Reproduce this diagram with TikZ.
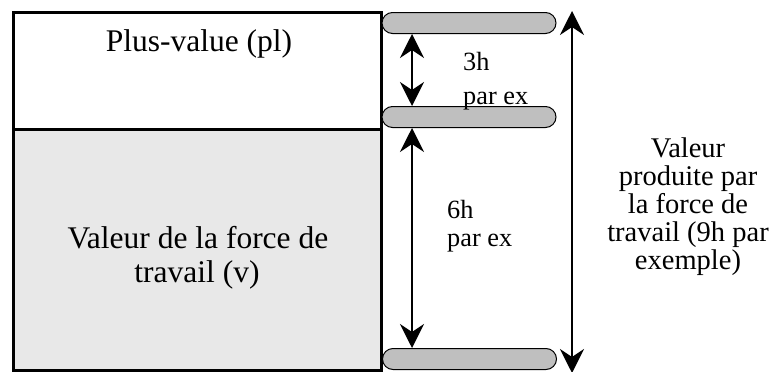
\documentclass[tikz,border=0pt]{standalone}
\usepackage{fontspec}
\setmainfont{Liberation Serif}
\usetikzlibrary{arrows.meta,shapes.misc}
\begin{document}
\begin{tikzpicture}[x=1pt,y=-1pt,
  boxpart/.style={draw,line width=2.5pt,anchor=north west,inner sep=0pt,minimum width=368pt},
  pill/.style={draw,line width=1pt,fill=gray!50,rounded rectangle,minimum width=174pt,minimum height=21pt,inner sep=0pt},
  arr/.style={line width=1.8pt,{Stealth[length=24pt,width=24pt,inset=8pt]}-{Stealth[length=24pt,width=24pt,inset=8pt]}},
  bigtxt/.style={font=\fontsize{31.5}{36}\selectfont,inner sep=0pt,anchor=base},
  midtxt/.style={font=\fontsize{28.5}{28}\selectfont,inner sep=0pt,anchor=base},
  smalltxt/.style={font=\fontsize{26.3}{27}\selectfont,inner sep=0pt,anchor=base west}]
\useasboundingbox (0,0) rectangle (779,372);
\node[boxpart,minimum height=241pt,fill=gray!18] (vbox) at (12,128) {};
\node[boxpart,minimum height=117pt] (plbox) at (12,11) {};
\node[bigtxt] (pltxt) at (199,51) {Plus-value (pl)};
\node[bigtxt] (vtxt1) at (198,248) {Valeur de la force de};
\node[bigtxt] (vtxt2) at (197,282) {travail (v)};
\node[pill] (p1) at (469,23) {};
\node[pill] (p2) at (469,117) {};
\node[pill] (p3) at (469.5,359) {};
\draw[arr] ([xshift=-57pt]p1.south) -- ([xshift=-57pt]p2.north);
\draw[arr] ([xshift=-57pt]p2.south) -- ([xshift=-57.5pt]p3.north);
\coordinate (ttop) at (572,11);
\coordinate (tbot) at (572,373);
\draw[arr] (ttop) -- (tbot);
\node[smalltxt] (t3a) at (463,70) {3h};
\node[smalltxt] (t3b) at (463,104) {par ex};
\node[smalltxt] (t6a) at (447,218) {6h};
\node[smalltxt] (t6b) at (447,246) {par ex};
\node[midtxt] (tv1) at (688,157) {Valeur};
\node[midtxt] (tv2) at (688,185) {produite par};
\node[midtxt] (tv3) at (688,213) {la force de};
\node[midtxt] (tv4) at (688,241) {travail (9h par};
\node[midtxt] (tv5) at (688,269) {exemple)};
\end{tikzpicture}
\end{document}
